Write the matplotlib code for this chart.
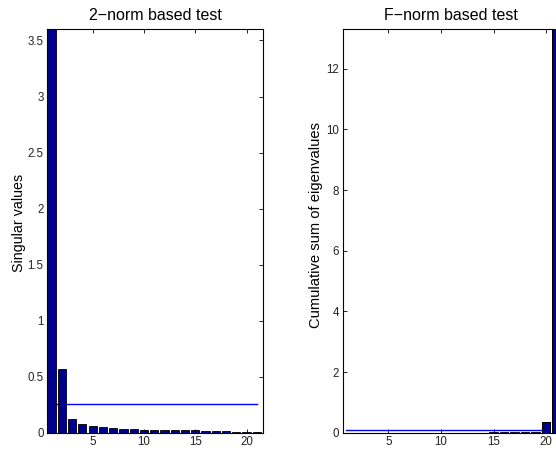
import numpy as np
import matplotlib.pyplot as plt

plt.rcParams['font.family'] = ['Liberation Sans', 'DejaVu Sans']

# Left panel: singular values and the 2-norm threshold
idx = np.arange(1, 22)
sing_vals = [3.65, 0.566, 0.122, 0.078, 0.060, 0.048, 0.039, 0.035, 0.030, 0.028,
             0.024, 0.022, 0.021, 0.020, 0.020, 0.016, 0.014, 0.012, 0.010, 0.008, 0.006]
thresh_2norm = 0.253

# Right panel: cumulative sum of eigenvalues and the F-norm threshold
cum_eig = [0.0001, 0.0002, 0.0003, 0.0005, 0.0007, 0.0009, 0.0012, 0.0015, 0.0019, 0.0024,
           0.003, 0.0037, 0.0045, 0.0055, 0.0068, 0.0085, 0.011, 0.015, 0.03, 0.34, 13.5]
thresh_fnorm = 0.09

bar_col = '#00008f'
line_col = '#0000ff'

fig = plt.figure(figsize=(5.56, 4.51), dpi=100)
ax1 = fig.add_axes([0.0845, 0.0406, 0.3885, 0.8945])
ax2 = fig.add_axes([0.6164, 0.0406, 0.3885, 0.8945])

def style(ax):
    ax.tick_params(direction='in', top=True, right=True, labelsize=8.3, length=3, width=0.6,
                   pad=2.5, labelcolor='#222222')
    for s in ax.spines.values():
        s.set_linewidth(0.8)
    ax.set_xticks([5, 10, 15, 20])

ax1.plot([1, 21], [thresh_2norm, thresh_2norm], color=line_col, lw=1.0, zorder=1)
ax1.bar(idx, sing_vals, width=0.8, color=bar_col, edgecolor='black', linewidth=0.6, zorder=2)
ax1.set_xlim(0.55, 21.6)
ax1.set_ylim(0, 3.6)
ax1.set_yticks([0, 0.5, 1, 1.5, 2, 2.5, 3, 3.5])
ax1.set_yticklabels(['0', '0.5', '1', '1.5', '2', '2.5', '3', '3.5'])
ax1.set_ylabel('Singular values', fontsize=10.3)
ax1.yaxis.set_label_coords(-0.098, 0.52)
ax1.set_title('2\u2212norm based test', fontsize=11.5, pad=6.5)
style(ax1)

ax2.bar(idx, cum_eig, width=0.8, color=bar_col, edgecolor='black', linewidth=0.6, zorder=1)
ax2.plot([1, 20], [thresh_fnorm, thresh_fnorm], color=line_col, lw=1.0, zorder=2)
ax2.bar(idx[19:], cum_eig[19:], width=0.8, color=bar_col, edgecolor='black', linewidth=0.6, zorder=3)
ax2.set_xlim(0.66, 21.2)
ax2.set_ylim(0, 13.3)
ax2.set_yticks([0, 2, 4, 6, 8, 10, 12])
ax2.set_ylabel('Cumulative sum of eigenvalues', fontsize=10.6)
ax2.yaxis.set_label_coords(-0.092, 0.515)
ax2.set_title('F\u2212norm based test', fontsize=11.5, pad=6.5)
style(ax2)

fig.savefig('out.png', dpi=100)
